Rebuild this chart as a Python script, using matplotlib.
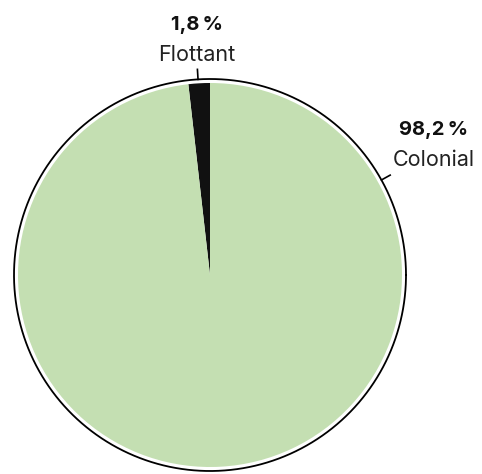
import numpy as np
import matplotlib
matplotlib.use("Agg")
import matplotlib.pyplot as plt

plt.rcParams['font.family'] = ['Inter', 'DejaVu Sans']

# donnees
labels = ["Flottant", "Colonial"]
values = [1.8, 98.2]
pct_labels = ["1,8\u2009%", "98,2\u2009%"]
colors = ["#111111", "#c4dfb2"]

W, H = 482, 474
fig = plt.figure(figsize=(W / 100, H / 100), dpi=100)
ax = fig.add_axes([0, 0, 1, 1])

cx, cy = 210, H - 275
r_pie = 192
r_ring = 196

ax.pie(values, colors=colors, startangle=90, counterclock=True,
       center=(cx, cy), radius=r_pie, frame=True,
       wedgeprops=dict(linewidth=0))
ax.set_xlim(0, W)
ax.set_ylim(0, H)
ax.set_aspect('equal')
ax.axis('off')

# cercle exterieur
t = np.linspace(0, 2 * np.pi, 400)
ax.plot(cx + r_ring * np.cos(t), cy + r_ring * np.sin(t), color="black", lw=1.3)

# ticks + labels
tick_angles = [93.5, 29.0]
label_pos = [(197, H - 55), (434, H - 160)]
for ang, (lx, ly), name, pct in zip(tick_angles, label_pos, labels, pct_labels):
    a = np.deg2rad(ang)
    ax.plot([cx + r_ring * np.cos(a), cx + (r_ring + 10) * np.cos(a)],
            [cy + r_ring * np.sin(a), cy + (r_ring + 10) * np.sin(a)],
            color="black", lw=1.2)
    ax.text(lx, ly, name, ha='center', va='center', fontsize=15.5, color="#222222")
    ax.text(lx, ly + 30, pct, ha='center', va='center', fontsize=14.5,
            fontweight='bold', color="#111111")

fig.savefig("out.png", dpi=100)
